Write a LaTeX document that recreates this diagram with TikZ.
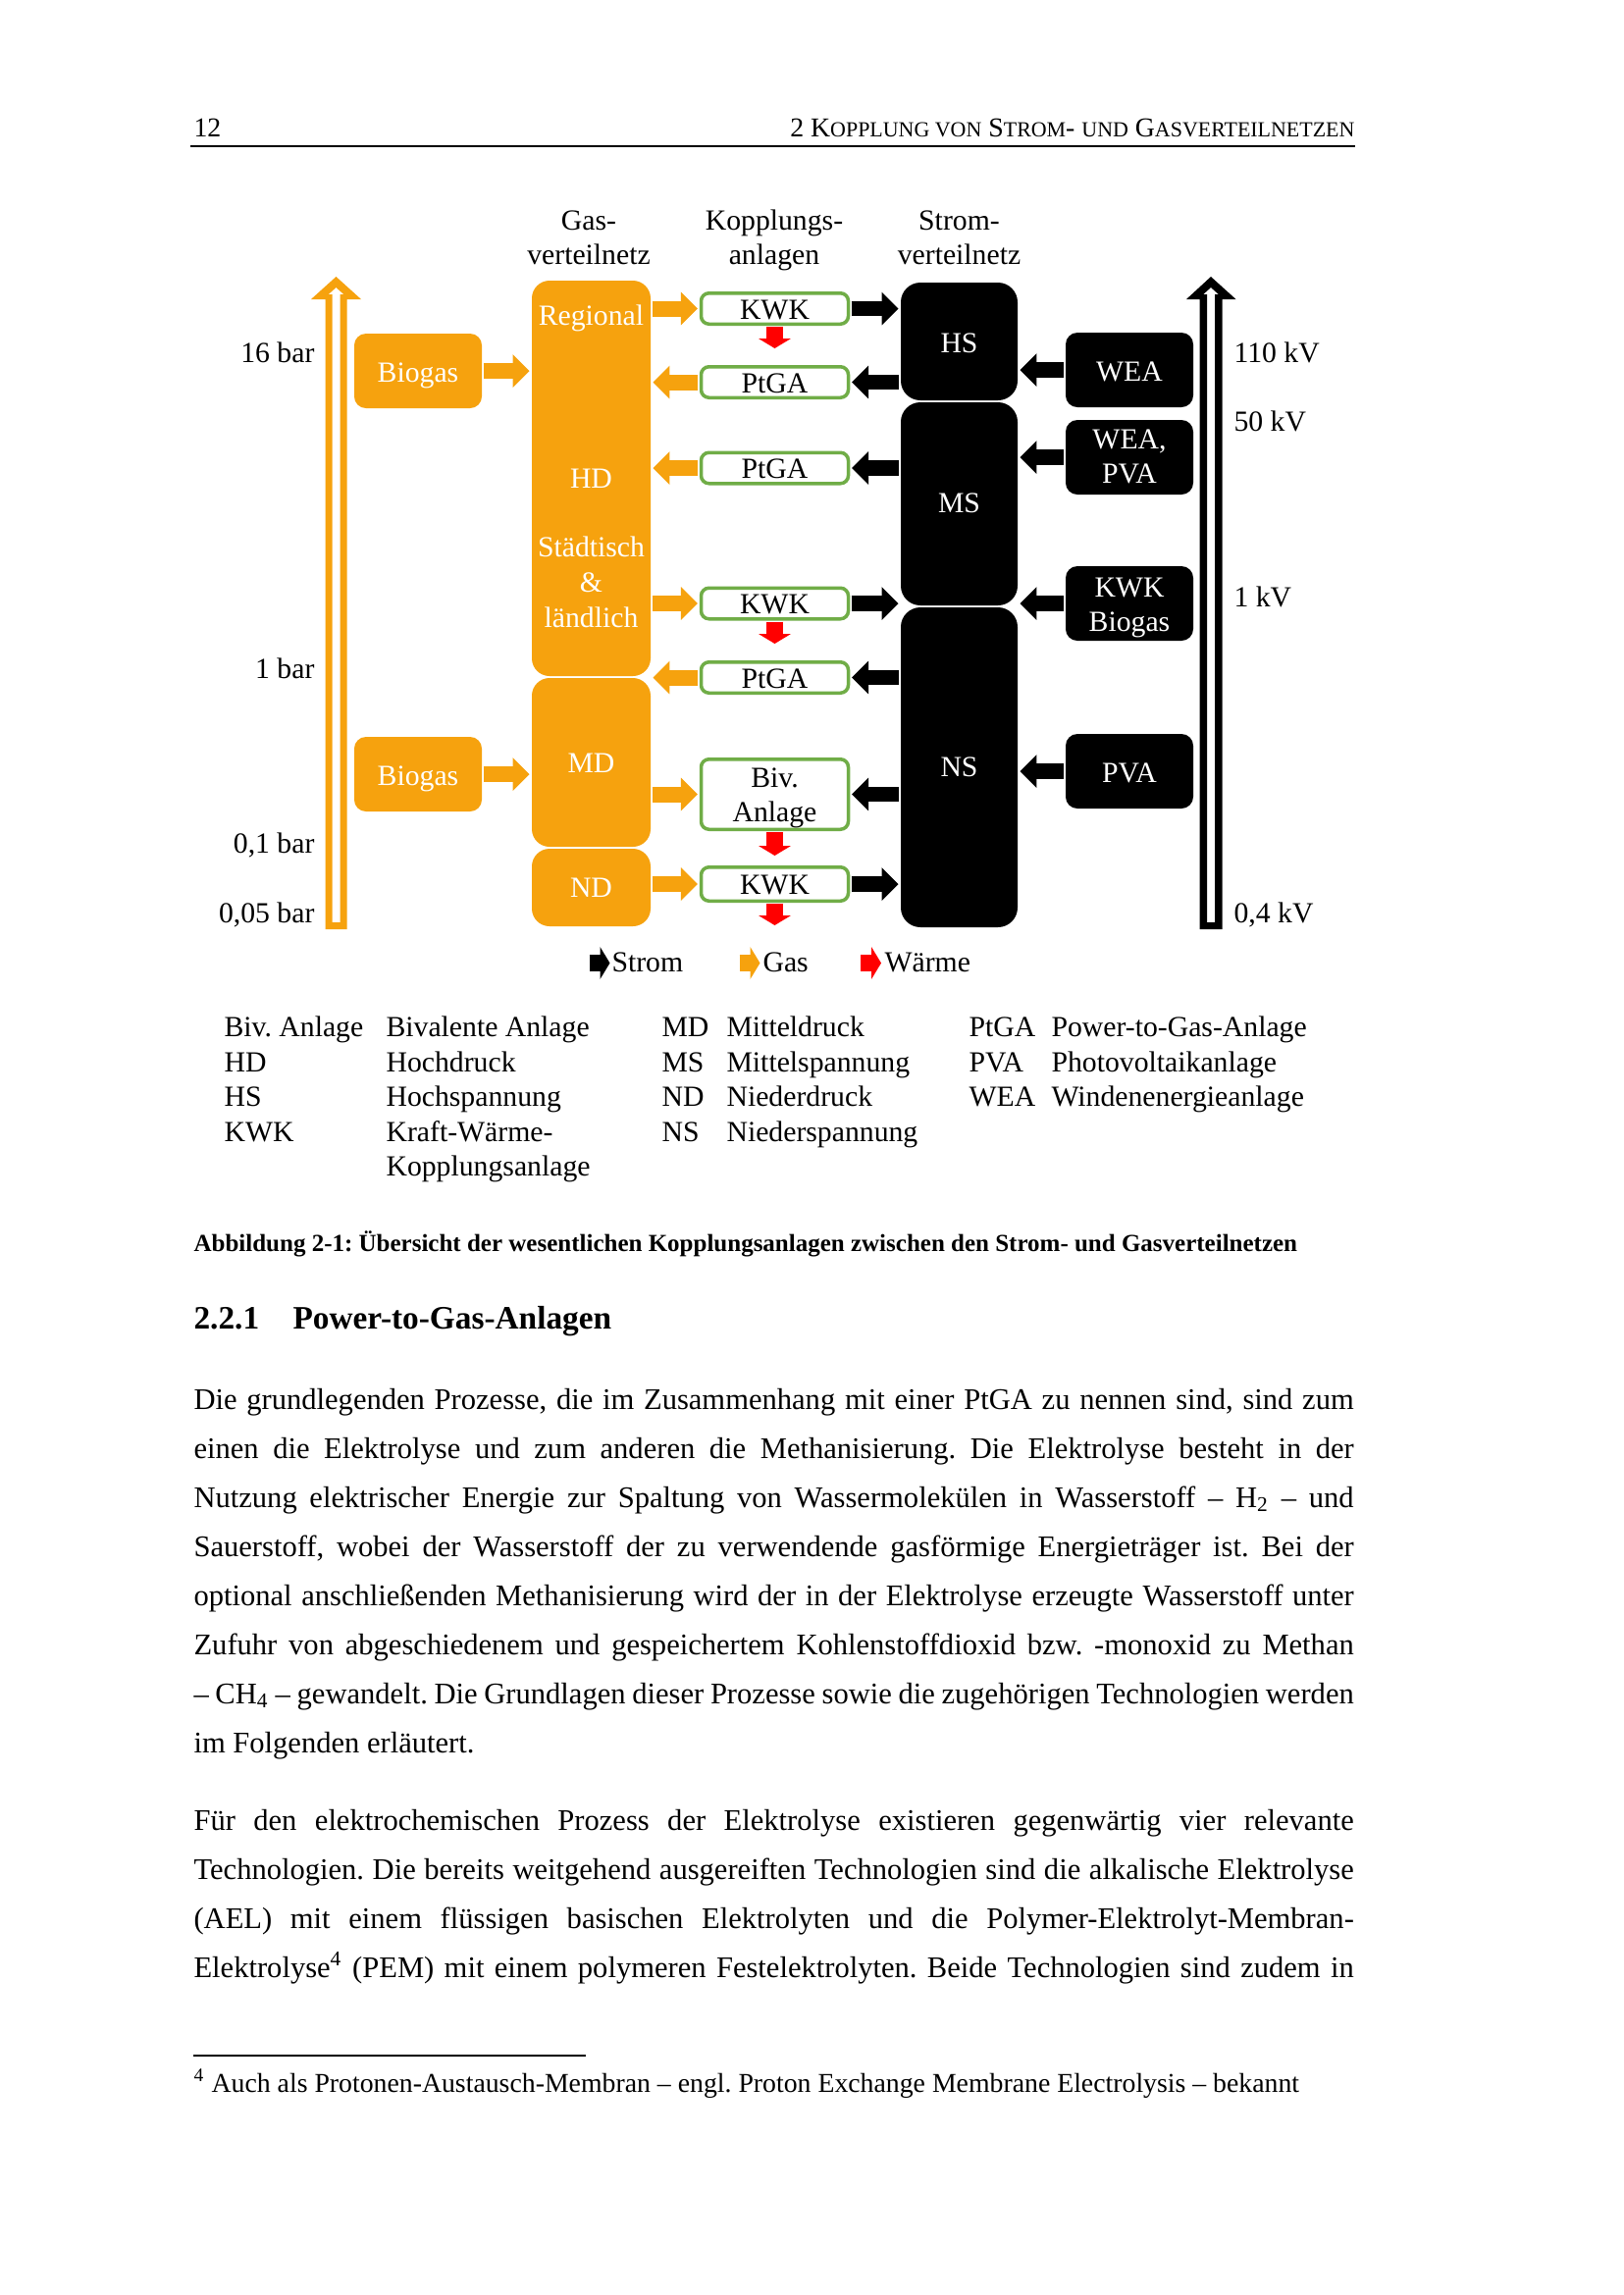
\documentclass[tikz,border=0pt]{standalone}
\usepackage{fontspec}
\setmainfont{Liberation Serif}
\usetikzlibrary{arrows.meta}
\definecolor{gasor}{RGB}{246,162,14}
\definecolor{kgreen}{RGB}{112,173,71}
\definecolor{wred}{RGB}{255,0,0}
\newcommand\fsc[1]{{\fontsize{7.9}{10}\selectfont #1}}
\newcommand\jline[1]{\makebox[425.6pt][s]{#1}}
\newcommand\lowerby[2]{\raisebox{-#1}[\height][\depth]{#2}}
\newcommand\twoline[2]{\begin{tabular}{@{}c@{}}#1\\#2\end{tabular}}
\begin{document}
\frenchspacing
\begin{tikzpicture}[x=0.36pt,y=-0.36pt,
  dfont/.style={font=\fontsize{10.7}{12.6}\selectfont},
  txt/.style={dfont, inner sep=0pt},
  wtxt/.style={dfont, inner sep=0pt, text=white, anchor=base},
  bodyline/.style={font=\fontsize{11}{18}\selectfont, inner sep=0pt, anchor=base west},
  gseg/.style={fill=gasor, rounded corners=6.5pt, inner sep=0pt, minimum width=43.56pt},
  sseg/.style={fill=black, rounded corners=7.2pt, inner sep=0pt, minimum width=42.84pt},
  biobox/.style={fill=gasor, rounded corners=4.3pt, inner sep=0pt, minimum width=46.8pt, minimum height=27.36pt, text=white, dfont},
  srcbox/.style={fill=black, rounded corners=4.3pt, inner sep=0pt, minimum width=46.8pt, minimum height=27.36pt, text=white, dfont, align=center},
  kbox/.style={draw=kgreen, line width=1.26pt, fill=white, rounded corners=2.9pt, inner sep=0pt, minimum width=54pt, minimum height=11.34pt, dfont, align=center},
  garr/.style={draw=gasor, line width=5.76pt, -{Triangle[length=6.1pt,width=12.2pt,line width=0pt]}, shorten <=0.5pt, shorten >=0.7pt},
  barr/.style={draw=black, line width=5.5pt, -{Triangle[length=6.1pt,width=12.2pt,line width=0pt]}, shorten <=0.5pt, shorten >=0.7pt},
  rarr/.style={draw=wred, line width=5.8pt, -{Triangle[length=3.6pt,width=11.9pt,line width=0pt]}, shorten <=0.4pt},
  larr/.style={line width=6.1pt, -{Triangle[length=3.6pt,width=11.9pt,line width=0pt]}},
]
\fill[white] (0,0) rectangle (1654,2339);
\useasboundingbox (0,0) rectangle (1654,2339);

% ---------- page header ----------
\node[anchor=base west, font=\fontsize{10}{12}\selectfont, inner sep=0pt] (pgno) at (197,139) {12};
\node[anchor=base east, font=\fontsize{10}{12}\selectfont, inner sep=0pt] (hdr) at (1381,139) {2 K\fsc{OPPLUNG VON} S\fsc{TROM}- \fsc{UND} G\fsc{ASVERTEILNETZEN}};
\draw[line width=0.6pt] (194,149) -- (1381,149);

% ---------- column headings ----------
\node[txt, anchor=base] (h1a) at (600,234) {Gas-};
\node[txt, anchor=base] (h1b) at (600,269) {verteilnetz};
\node[txt, anchor=base] (h2a) at (789,234) {Kopplungs-};
\node[txt, anchor=base] (h2b) at (789,269) {anlagen};
\node[txt, anchor=base] (h3a) at (977.5,234) {Strom-};
\node[txt, anchor=base] (h3b) at (977.5,269) {verteilnetz};

% ---------- hollow scale arrows ----------
\fill[gasor, even odd rule] (331.5,947) -- (353.5,947) -- (353.5,305) -- (368,305) -- (342.5,282) -- (317,305) -- (331.5,305) -- cycle
  (338.5,940) -- (346.5,940) -- (346.5,300) -- (350.3,300) -- (342.5,293) -- (334.7,300) -- (338.5,300) -- cycle;
\fill[black, even odd rule] (1222.5,947) -- (1245.5,947) -- (1245.5,305) -- (1259.5,305) -- (1234,282) -- (1209,305) -- (1222.5,305) -- cycle
  (1230,940) -- (1238,940) -- (1238,300) -- (1241.8,300) -- (1234,293) -- (1226.2,300) -- (1230,300) -- cycle;

\node[txt, anchor=base east] (p16) at (321,369) {16 bar};
\node[txt, anchor=base east] (p1) at (321,691) {1 bar};
\node[txt, anchor=base east] (p01) at (321,869) {0,1 bar};
\node[txt, anchor=base east] (p005) at (321,940) {0,05 bar};
\node[txt, anchor=base west] (v110) at (1257,369) {110 kV};
\node[txt, anchor=base west] (v50) at (1257,439) {50 kV};
\node[txt, anchor=base west] (v1) at (1257,618) {1 kV};
\node[txt, anchor=base west] (v04) at (1257,940) {0,4 kV};

% ---------- gas network ----------
\node[gseg, minimum height=145.08pt] (hd) at (602.5,487.5) {};
\node[gseg, minimum height=61.92pt] (md) at (602.5,777) {};
\node[gseg, minimum height=28.44pt] (nd) at (602.5,904.5) {};
\node[wtxt] (tReg) at (602.5,331) {Regional};
\node[wtxt] (tHD) at (602.5,497) {HD};
\node[wtxt] (tSt) at (602.5,567) {Städtisch};
\node[wtxt] (tAmp) at (602.5,603) {\&};
\node[wtxt] (tLae) at (602.5,639) {ländlich};
\node[wtxt] (tMD) at (602.5,787) {MD};
\node[wtxt] (tND) at (602.5,914) {ND};

\node[biobox] (bio1) at (426,378) {\lowerby{1.6pt}{Biogas}};
\node[biobox] (bio2) at (426,789) {\lowerby{1.6pt}{Biogas}};

% ---------- power network ----------
\node[sseg, minimum height=43.2pt] (hs) at (977.5,348) {};
\node[sseg, minimum height=74.52pt] (ms) at (977.5,513.5) {};
\node[sseg, minimum height=117.36pt] (ns) at (977.5,782) {};
\node[wtxt] (tHS) at (977.5,359) {HS};
\node[wtxt] (tMS) at (977.5,522) {MS};
\node[wtxt] (tNS) at (977.5,791) {NS};

\node[srcbox] (wea) at (1151,377) {\lowerby{0.7pt}{WEA}};
\node[srcbox] (weapva) at (1151,466) {\lowerby{0.8pt}{\twoline{WEA,}{PVA}}};
\node[srcbox] (kwkbio) at (1151,615) {\lowerby{1.5pt}{\twoline{KWK}{Biogas}}};
\node[srcbox] (pva) at (1151,786) {\lowerby{0.8pt}{PVA}};

% ---------- coupling plants ----------
\node[kbox] (kwk1) at (789.5,314.5) {\lowerby{0.4pt}{KWK}};
\node[kbox] (ptga1) at (789.5,389.5) {\lowerby{0.4pt}{PtGA}};
\node[kbox] (ptga2) at (789.5,477) {\lowerby{0.4pt}{PtGA}};
\node[kbox] (kwk2) at (789.5,615) {\lowerby{0.4pt}{KWK}};
\node[kbox] (ptga3) at (789.5,690.5) {\lowerby{0.4pt}{PtGA}};
\node[kbox, minimum height=25.74pt] (biv) at (789.5,809.5) {\lowerby{1.3pt}{\twoline{Biv.}{Anlage}}};
\node[kbox, minimum height=12.42pt] (kwk3) at (789.5,901) {\lowerby{0.4pt}{KWK}};

% ---------- gas arrows ----------
\draw[garr] (bio1.east) -- (hd.west |- bio1.east);
\draw[garr] (bio2.east) -- (md.west |- bio2.east);
\draw[garr] (hd.east |- kwk1.west) -- (kwk1.west);
\draw[garr] (ptga1.west) -- (hd.east |- ptga1.west);
\draw[garr] (ptga2.west) -- (hd.east |- ptga2.west);
\draw[garr] (hd.east |- kwk2.west) -- (kwk2.west);
\draw[garr] (ptga3.west) -- (hd.east |- ptga3.west);
\draw[garr] (md.east |- biv.west) -- (biv.west);
\draw[garr] (nd.east |- kwk3.west) -- (kwk3.west);

% ---------- power arrows ----------
\draw[barr] (kwk1.east) -- (hs.west |- kwk1.east);
\draw[barr] (hs.west |- ptga1.east) -- (ptga1.east);
\draw[barr] (ms.west |- ptga2.east) -- (ptga2.east);
\draw[barr] (kwk2.east) -- (ms.west |- kwk2.east);
\draw[barr] (ns.west |- ptga3.east) -- (ptga3.east);
\draw[barr] (ns.west |- biv.east) -- (biv.east);
\draw[barr] (kwk3.east) -- (ns.west |- kwk3.east);
\draw[barr] (wea.west) -- (hs.east |- wea.west);
\draw[barr] (weapva.west) -- (ms.east |- weapva.west);
\draw[barr] (kwkbio.west) -- (ms.east |- kwkbio.west);
\draw[barr] (pva.west) -- (ns.east |- pva.west);

% ---------- heat arrows ----------
\coordinate (r1) at (789.5,355);
\coordinate (r2) at (789.5,656);
\coordinate (r3) at (789.5,872);
\coordinate (r4) at (789.5,943);
\draw[rarr] (kwk1.south) -- (r1);
\draw[rarr] (kwk2.south) -- (r2);
\draw[rarr] (biv.south) -- (r3);
\draw[rarr] (kwk3.south) -- (r4);

% ---------- legend ----------
\coordinate (lgS1) at (600.5,981.5); \coordinate (lgS2) at (621.5,981.5);
\coordinate (lgG1) at (753.5,981.5); \coordinate (lgG2) at (774.5,981.5);
\coordinate (lgW1) at (877,981.5);   \coordinate (lgW2) at (898,981.5);
\draw[larr, draw=black] (lgS1) -- (lgS2);
\draw[larr, draw=gasor] (lgG1) -- (lgG2);
\draw[larr, draw=wred] (lgW1) -- (lgW2);
\node[txt, anchor=base west] (lgSt) at (623,990) {Strom};
\node[txt, anchor=base west] (lgGt) at (777,990) {Gas};
\node[txt, anchor=base west] (lgWt) at (901,990) {Wärme};

% ---------- abbreviations ----------
\node[txt, anchor=base west] (a11) at (228,1056.5) {Biv. Anlage};
\node[txt, anchor=base west] (a12) at (393,1056.5) {Bivalente Anlage};
\node[txt, anchor=base west] (a21) at (228,1092) {HD};
\node[txt, anchor=base west] (a22) at (393,1092) {Hochdruck};
\node[txt, anchor=base west] (a31) at (228,1127.5) {HS};
\node[txt, anchor=base west] (a32) at (393,1127.5) {Hochspannung};
\node[txt, anchor=base west] (a41) at (228,1163) {KWK};
\node[txt, anchor=base west] (a42) at (393,1163) {Kraft-Wärme-};
\node[txt, anchor=base west] (a52) at (393,1198.5) {Kopplungsanlage};
\node[txt, anchor=base west] (b11) at (674,1056.5) {MD};
\node[txt, anchor=base west] (b12) at (740,1056.5) {Mitteldruck};
\node[txt, anchor=base west] (b21) at (674,1092) {MS};
\node[txt, anchor=base west] (b22) at (740,1092) {Mittelspannung};
\node[txt, anchor=base west] (b31) at (674,1127.5) {ND};
\node[txt, anchor=base west] (b32) at (740,1127.5) {Niederdruck};
\node[txt, anchor=base west] (b41) at (674,1163) {NS};
\node[txt, anchor=base west] (b42) at (740,1163) {Niederspannung};
\node[txt, anchor=base west] (c11) at (987,1056.5) {PtGA};
\node[txt, anchor=base west] (c12) at (1071,1056.5) {Power-to-Gas-Anlage};
\node[txt, anchor=base west] (c21) at (987,1092) {PVA};
\node[txt, anchor=base west] (c22) at (1071,1092) {Photovoltaikanlage};
\node[txt, anchor=base west] (c31) at (987,1127.5) {WEA};
\node[txt, anchor=base west] (c32) at (1071,1127.5) {Windenenergieanlage};

% ---------- caption ----------
\node[anchor=base west, font=\fontsize{9}{11}\selectfont\bfseries, inner sep=0pt] (cap) at (197,1275) {Abbildung 2-1: Übersicht der wesentlichen Kopplungsanlagen zwischen den Strom- und Gasverteilnetzen};

% ---------- section heading ----------
\node[anchor=base west, font=\fontsize{12}{14}\selectfont\bfseries, inner sep=0pt] (secno) at (197,1354) {2.2.1};
\node[anchor=base west, font=\fontsize{12}{14}\selectfont\bfseries, inner sep=0pt] (sectit) at (298,1354) {Power-to-Gas-Anlagen};

% ---------- paragraph 1 ----------
\node[bodyline] (pa1) at (197,1436) {\jline{Die grundlegenden Prozesse, die im Zusammenhang mit einer PtGA zu nennen sind, sind zum}};
\node[bodyline] (pa2) at (197,1486) {\jline{einen die Elektrolyse und zum anderen die Methanisierung. Die Elektrolyse besteht in der}};
\node[bodyline] (pa3) at (197,1536) {\jline{Nutzung elektrischer Energie zur Spaltung von Wassermolekülen in Wasserstoff – H\textsubscript{2} – und}};
\node[bodyline] (pa4) at (197,1586) {\jline{Sauerstoff, wobei der Wasserstoff der zu verwendende gasförmige Energieträger ist. Bei der}};
\node[bodyline] (pa5) at (197,1636) {\jline{optional anschließenden Methanisierung wird der in der Elektrolyse erzeugte Wasserstoff unter}};
\node[bodyline] (pa6) at (197,1686) {\jline{Zufuhr von abgeschiedenem und gespeichertem Kohlenstoffdioxid bzw. -monoxid zu Methan}};
\node[bodyline] (pa7) at (197,1736) {\jline{– CH\textsubscript{4} – gewandelt. Die Grundlagen dieser Prozesse sowie die zugehörigen Technologien werden}};
\node[bodyline] (pa8) at (197,1786) {im Folgenden erläutert.};

% ---------- paragraph 2 ----------
\node[bodyline] (pb1) at (197,1865) {\jline{Für den elektrochemischen Prozess der Elektrolyse existieren gegenwärtig vier relevante}};
\node[bodyline] (pb2) at (197,1915) {\jline{Technologien. Die bereits weitgehend ausgereiften Technologien sind die alkalische Elektrolyse}};
\node[bodyline] (pb3) at (197,1965) {\jline{(AEL) mit einem flüssigen basischen Elektrolyten und die Polymer-Elektrolyt-Membran-}};
\node[bodyline] (pb4) at (197,2015) {\jline{Elektrolyse\textsuperscript{4} (PEM) mit einem polymeren Festelektrolyten. Beide Technologien sind zudem in}};

% ---------- footnote ----------
\draw[line width=0.6pt] (197,2095) -- (597,2095);
\node[anchor=base west, font=\fontsize{10}{12}\selectfont, inner sep=0pt] (fn) at (197,2132) {\textsuperscript{4} Auch als Protonen-Austausch-Membran – engl. Proton Exchange Membrane Electrolysis – bekannt};
\end{tikzpicture}
\end{document}
